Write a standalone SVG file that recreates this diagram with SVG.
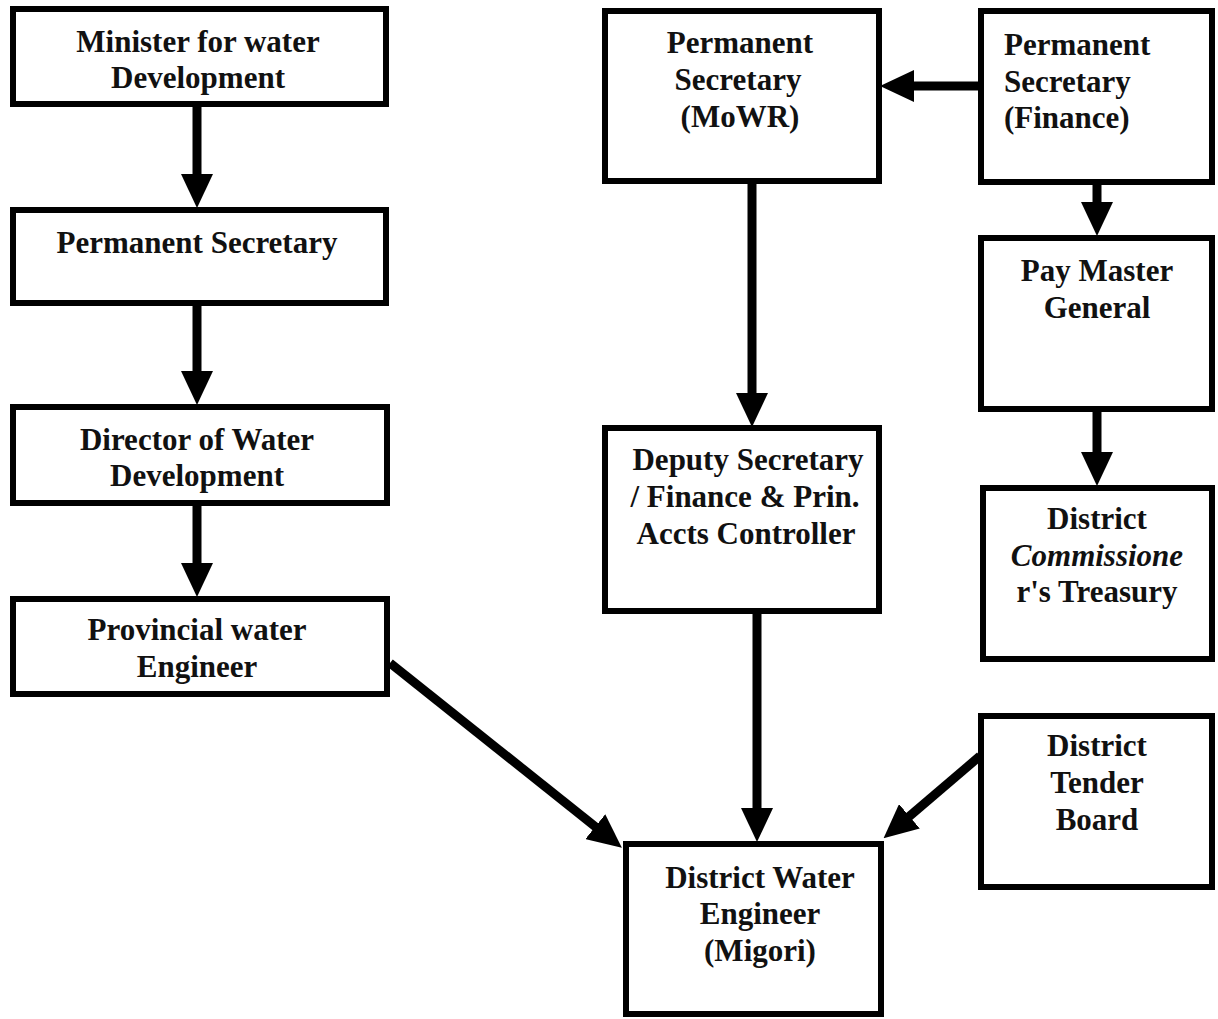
<svg xmlns="http://www.w3.org/2000/svg" width="1218" height="1019" viewBox="0 0 1218 1019">
<style>
.box{fill:#fff;stroke:#000;stroke-width:6}
.t{font-family:"Liberation Serif","Times New Roman",serif;font-weight:bold;font-size:31px;fill:#111;text-anchor:middle}
.l{text-anchor:start}
.it{font-style:italic}
.c{stroke:#000;stroke-width:9;fill:none}
</style>
<defs>
<marker id="ah" markerUnits="userSpaceOnUse" markerWidth="34" markerHeight="32" refX="15" refY="16" orient="auto" viewBox="0 0 34 32">
<path d="M0,0 L34,16 L0,32 z" fill="#000"/>
</marker>
</defs>
<rect width="1218" height="1019" fill="#fff"/>
<g id="connectors">
<line class="c" x1="197" y1="106" x2="197" y2="189" marker-end="url(#ah)"/>
<line class="c" x1="197" y1="305" x2="197" y2="386" marker-end="url(#ah)"/>
<line class="c" x1="197" y1="505" x2="197" y2="578" marker-end="url(#ah)"/>
<line class="c" x1="980" y1="86" x2="899" y2="86" marker-end="url(#ah)"/>
<line class="c" x1="1097" y1="183" x2="1097" y2="217" marker-end="url(#ah)"/>
<line class="c" x1="1097" y1="410" x2="1097" y2="467" marker-end="url(#ah)"/>
<line class="c" x1="752" y1="182" x2="752" y2="408" marker-end="url(#ah)"/>
<line class="c" x1="757" y1="612" x2="757" y2="823" marker-end="url(#ah)"/>
<line class="c" x1="390" y1="663" x2="607" y2="836" marker-end="url(#ah)"/>
<line class="c" x1="980" y1="756" x2="898" y2="826" marker-end="url(#ah)"/>
</g>
<g id="minister">
<rect class="box" x="13" y="9" width="373" height="95"/>
<text class="t" x="198" y="52">Minister for water</text>
<text class="t" x="198" y="88">Development</text>
</g>
<g id="perm-sec">
<rect class="box" x="13" y="210" width="373" height="93"/>
<text class="t" x="197" y="253">Permanent Secretary</text>
</g>
<g id="director">
<rect class="box" x="13" y="407" width="374" height="96"/>
<text class="t" x="197" y="450">Director of Water</text>
<text class="t" x="197" y="486">Development</text>
</g>
<g id="provincial">
<rect class="box" x="13" y="599" width="374" height="95"/>
<text class="t" x="197" y="640">Provincial water</text>
<text class="t" x="197" y="677">Engineer</text>
</g>
<g id="ps-mowr">
<rect class="box" x="605" y="11" width="274" height="170"/>
<text class="t" x="740" y="53">Permanent</text>
<text class="t" x="738" y="90">Secretary</text>
<text class="t" x="740" y="127">(MoWR)</text>
</g>
<g id="ps-finance">
<rect class="box" x="981" y="11" width="231" height="171"/>
<text class="t l" x="1004" y="55">Permanent</text>
<text class="t l" x="1004" y="92">Secretary</text>
<text class="t l" x="1004" y="128">(Finance)</text>
</g>
<g id="paymaster">
<rect class="box" x="981" y="238" width="231" height="171"/>
<text class="t" x="1097" y="281">Pay Master</text>
<text class="t" x="1097" y="318">General</text>
</g>
<g id="treasury">
<rect class="box" x="983" y="488" width="229" height="171"/>
<text class="t" x="1097" y="529">District</text>
<text class="t it" x="1097" y="566">Commissione</text>
<text class="t" x="1097" y="602">r's Treasury</text>
</g>
<g id="deputy">
<rect class="box" x="605" y="428" width="274" height="183"/>
<text class="t" x="748" y="470">Deputy Secretary</text>
<text class="t" x="745" y="507">/ Finance &amp; Prin.</text>
<text class="t" x="746" y="544">Accts Controller</text>
</g>
<g id="tender">
<rect class="box" x="981" y="716" width="231" height="171"/>
<text class="t" x="1097" y="756">District</text>
<text class="t" x="1097" y="793">Tender</text>
<text class="t" x="1097" y="830">Board</text>
</g>
<g id="dwe">
<rect class="box" x="626" y="844" width="255" height="170"/>
<text class="t" x="760" y="888">District Water</text>
<text class="t" x="760" y="924">Engineer</text>
<text class="t" x="760" y="961">(Migori)</text>
</g>
</svg>
